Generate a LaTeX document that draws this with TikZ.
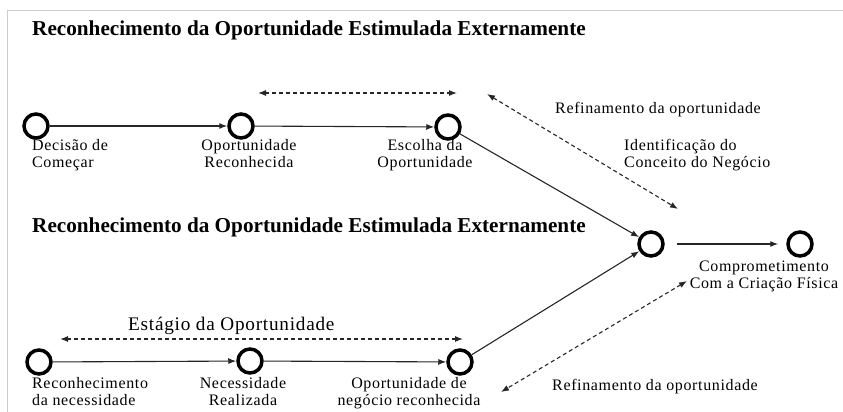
\documentclass[tikz,border=0pt]{standalone}
\usepackage{fontspec}
\setmainfont{Liberation Serif}
\newfontfamily\lblfont[LetterSpace=4]{Liberation Serif}
\usetikzlibrary{arrows.meta}
\begin{document}
\begin{tikzpicture}[x=1pt,y=-1pt,
  stage/.style={circle,draw=black,line width=3.5pt,minimum size=24pt,inner sep=0pt},
  lbl/.style={font=\lblfont\fontsize{16}{17}\selectfont,align=center,inner sep=0pt},
  ttl/.style={font=\fontsize{21.2}{23}\selectfont\bfseries,anchor=west,inner sep=0pt},
  flow/.style={-{Latex[length=8pt,width=6pt]},line width=1.1pt,draw=black!85},
  dflow/.style={{Latex[length=8pt,width=6pt]}-{Latex[length=8pt,width=6pt]},line width=1.1pt,dash pattern=on 4pt off 3pt,draw=black!85}]
\useasboundingbox (0,0) rectangle (843,412);
\draw[gray!40,line width=0.8pt] (7,10) -- (843,10);
\draw[gray!40,line width=0.8pt] (7,10) -- (7,412);
% titles
\node[ttl] (t1) at (32,30) {Reconhecimento da Oportunidade Estimulada Externamente};
\node[ttl] (t2) at (32,227) {Reconhecimento da Oportunidade Estimulada Externamente};
% top row
\node[stage] (a1) at (36,126) {};
\node[stage] (a2) at (241,126) {};
\node[stage] (a3) at (448,127) {};
\node[stage] (m) at (651,244) {};
\node[stage] (f) at (800,244) {};
% bottom row
\node[stage] (b1) at (39,362) {};
\node[stage] (b2) at (250,361) {};
\node[stage] (b3) at (460,362) {};
% labels
\node[lbl,align=left,anchor=north west] (la1) at (32,139) {Decisão de\\Começar};
\node[lbl,anchor=north] (la2) at (249,139) {Oportunidade\\Reconhecida};
\node[lbl,anchor=north] (la3) at (425,139) {Escolha da\\Oportunidade};
\node[lbl,anchor=north] (lf) at (764,261) {Comprometimento\\Com a Criação Física};
\node[lbl,align=left,anchor=north west] (lb1) at (32,377) {Reconhecimento\\da necessidade};
\node[lbl,anchor=north] (lb2) at (243,377) {Necessidade\\Realizada};
\node[lbl,anchor=north] (lb3) at (409,377) {Oportunidade de\\negócio reconhecida};
\node[lbl,anchor=west] (r1) at (555,110) {Refinamento da oportunidade};
\node[lbl,align=left,anchor=north west] (id) at (624,139) {Identificação do\\Conceito do Negócio};
\node[lbl,anchor=west] (r2) at (552,387) {Refinamento da oportunidade};
\node[lbl,font=\lblfont\fontsize{19.2}{21}\selectfont,anchor=west] (est) at (128,326) {Estágio da Oportunidade};
% coordinates for dashed arrows
\coordinate (d1a) at (258,93);
\coordinate (d1b) at (457,93);
\coordinate (d2a) at (487,94);
\coordinate (d2b) at (678,209);
\coordinate (d3a) at (60,339);
\coordinate (d3b) at (463,339);
\coordinate (d4a) at (687,281);
\coordinate (d4b) at (501,392);
% solid flows
\draw[flow] (a1) -- (a2);
\draw[flow] (a2) -- (a3);
\draw[flow] (a3) -- (m);
\draw[flow] (b1) -- (b2);
\draw[flow] (b2) -- (b3);
\draw[flow] (b3) -- (m);
\draw[flow,shorten <=12pt,shorten >=8pt] (m) -- (f);
% dashed
\draw[dflow] (d1a) -- (d1b);
\draw[dflow] (d2a) -- (d2b);
\draw[dflow] (d3a) -- (d3b);
\draw[dflow] (d4a) -- (d4b);
\end{tikzpicture}
\end{document}
